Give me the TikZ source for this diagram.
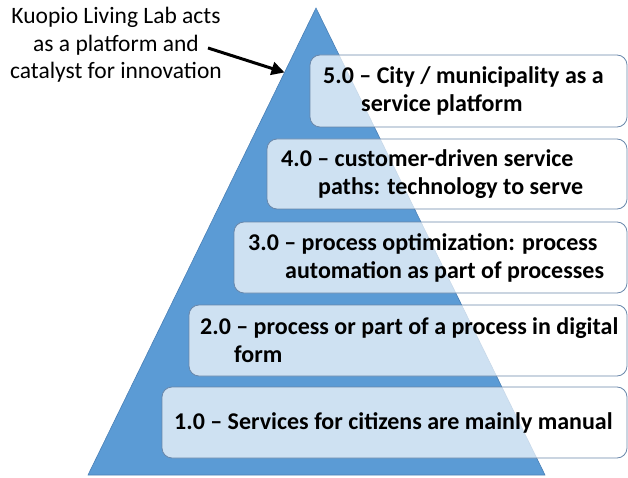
\documentclass[tikz,border=0pt]{standalone}
\usepackage{fontspec}
\setmainfont{Carlito}
\usetikzlibrary{arrows.meta,calc}
\definecolor{pyrblue}{RGB}{91,155,213}
\definecolor{pyredge}{RGB}{74,128,182}
\definecolor{boxedge}{RGB}{105,135,170}
\tikzset{
  levelbox/.style={draw=boxedge, line width=0.8pt, fill=white, fill opacity=0.7, rounded corners=10pt},
  leveltext/.style={anchor=west, align=left, inner sep=0pt, text=black,
    font=\fontsize{24}{28}\selectfont\bfseries},
  notetext/.style={align=center, inner sep=0pt, font=\fontsize{23.5}{27.5}\selectfont},
  pointer/.style={line width=3pt, -{Triangle[length=13pt,width=13pt]}}
}
\begin{document}
\begin{tikzpicture}[x=1pt,y=-1pt]
\useasboundingbox (0,0) rectangle (628,478);
% pyramid
\coordinate (apex) at (316,8);
\coordinate (bl) at (88,475);
\coordinate (br) at (545,475);
\draw[fill=pyrblue, draw=pyredge, line width=0.6pt] (apex) -- (bl) -- (br) -- cycle;
% boxes
\draw[levelbox] (310,55) rectangle (627,127);
\draw[levelbox] (267,139) rectangle (627,209);
\draw[levelbox] (234,222) rectangle (627,293);
\draw[levelbox] (189,305) rectangle (627,376);
\draw[levelbox] (162,387) rectangle (627,458);
% box texts
\node[leveltext] (t5) at (323,91) {5.0 -- City / municipality as a\\\hspace*{38pt}service platform};
\node[leveltext] (t4) at (281,174) {4.0 -- customer-driven service\\\hspace*{37pt}paths: technology to serve};
\node[leveltext] (t3) at (248,257.5) {3.0 -- process optimization: process\\\hspace*{37pt}automation as part of processes};
\node[leveltext] (t2) at (200,340.5) {2.0 -- process or part of a process in digital\\\hspace*{34pt}form};
\node[leveltext] (t1) at (174,422.5) {1.0 -- Services for citizens are mainly manual};
% note
\node[notetext] (note) at (116,45) {Kuopio Living Lab acts\\as a platform and\\catalyst for innovation};
\coordinate (arrS) at (208,48);
\coordinate (arrE) at ($(apex)!0.138!(bl)$);
\draw[pointer] (arrS) -- (arrE);
\end{tikzpicture}
\end{document}
